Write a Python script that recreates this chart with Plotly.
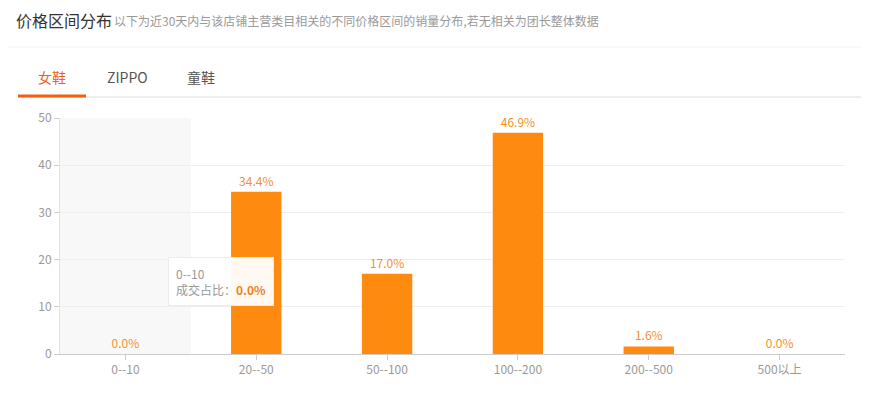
import plotly.graph_objects as go

categories = ["0--10", "20--50", "50--100", "100--200", "200--500", "500以上"]
values = [0.0, 34.4, 17.0, 46.9, 1.6, 0.0]
labels = ["0.0%", "34.4%", "17.0%", "46.9%", "1.6%", "0.0%"]
y_ticks = [0, 10, 20, 30, 40, 50]
tabs = ["女鞋", "ZIPPO", "童鞋"]

OFF = 8  # page body margin
W, H = 869 - OFF, 395 - OFF
L, R, T, B = 60 - OFF, 24, 118 - OFF, 41
PW = W - L - R
PH = H - T - B

def px_x(p):
    return (p - OFF - L) / PW

def px_y(p):
    return (H - B - (p - OFF)) / PH

FONT = "Noto Sans CJK SC, Microsoft YaHei, sans-serif"
ORANGE = "#ff8a10"
LABEL = "#f5902a"

fig = go.Figure()
fig.add_trace(go.Bar(
    x=categories, y=values, text=labels, textposition="outside",
    textfont=dict(color=LABEL, size=12, family=FONT),
    marker=dict(color=ORANGE, line=dict(width=0)),
    width=0.385, cliponaxis=False, hoverinfo="skip",
))

shapes = [
    dict(type="rect", xref="x", yref="y", x0=-0.5, x1=0.5, y0=0, y1=50,
         fillcolor="#f8f8f8", line=dict(width=0), layer="below"),
    dict(type="line", xref="paper", yref="paper", x0=px_x(OFF), x1=px_x(869),
         y0=px_y(47), y1=px_y(47), line=dict(color="#f0f0f0", width=1)),
    dict(type="line", xref="paper", yref="paper", x0=px_x(18), x1=px_x(863),
         y0=px_y(97), y1=px_y(97), line=dict(color="#dddddd", width=1)),
    dict(type="line", xref="paper", yref="paper", x0=px_x(18), x1=px_x(86),
         y0=px_y(96), y1=px_y(96), line=dict(color="#f2600f", width=3)),
]

annotations = [
    dict(xref="paper", yref="paper", x=px_x(14), y=px_y(20), xanchor="left", yanchor="middle",
         text="价格区间分布", showarrow=False,
         font=dict(size=16, color="#333333", family=FONT)),
    dict(xref="paper", yref="paper", x=px_x(112), y=px_y(20), xanchor="left", yanchor="middle",
         text="以下为近30天内与该店铺主营类目相关的不同价格区间的销量分布,若无相关为团长整体数据", showarrow=False,
         font=dict(size=12, color="#999999", family=FONT)),
    dict(xref="paper", yref="paper", x=px_x(52), y=px_y(77), xanchor="center", yanchor="middle",
         text=tabs[0], showarrow=False, font=dict(size=14, color="#f2600f", family=FONT)),
    dict(xref="paper", yref="paper", x=px_x(127), y=px_y(77), xanchor="center", yanchor="middle",
         text=tabs[1], showarrow=False, font=dict(size=14, color="#555555", family=FONT)),
    dict(xref="paper", yref="paper", x=px_x(201), y=px_y(77), xanchor="center", yanchor="middle",
         text=tabs[2], showarrow=False, font=dict(size=14, color="#555555", family=FONT)),
    dict(xref="paper", yref="paper", x=px_x(168), y=px_y(257), xanchor="left", yanchor="top",
         text=categories[0] + "<br>成交占比：<b><span style='color:#f07f1a'>" + labels[0] + "</span></b>",
         showarrow=False, align="left", bgcolor="rgba(255,255,255,0.95)",
         bordercolor="#ebebeb", borderwidth=1, borderpad=7,
         font=dict(size=12, color="#999999", family=FONT)),
]

fig.update_layout(
    width=W, height=H,
    margin=dict(l=L, r=R, t=T, b=B),
    paper_bgcolor="white", plot_bgcolor="white",
    showlegend=False, bargap=0.6,
    shapes=shapes, annotations=annotations,
    font=dict(family=FONT),
    xaxis=dict(showgrid=False, showline=True, linecolor="#cccccc", linewidth=1,
               ticks="outside", ticklen=5, tickcolor="#cccccc",
               tickfont=dict(size=12, color="#999999", family=FONT), fixedrange=True),
    yaxis=dict(range=[0, 50], tickvals=y_ticks, showgrid=True, gridcolor="#eeeeee",
               showline=True, linecolor="#e0e0e0", linewidth=1, zeroline=False,
               ticks="outside", ticklen=5, tickcolor="#cccccc",
               tickfont=dict(size=12, color="#999999", family=FONT), fixedrange=True),
)

fig.write_html("out.html")
